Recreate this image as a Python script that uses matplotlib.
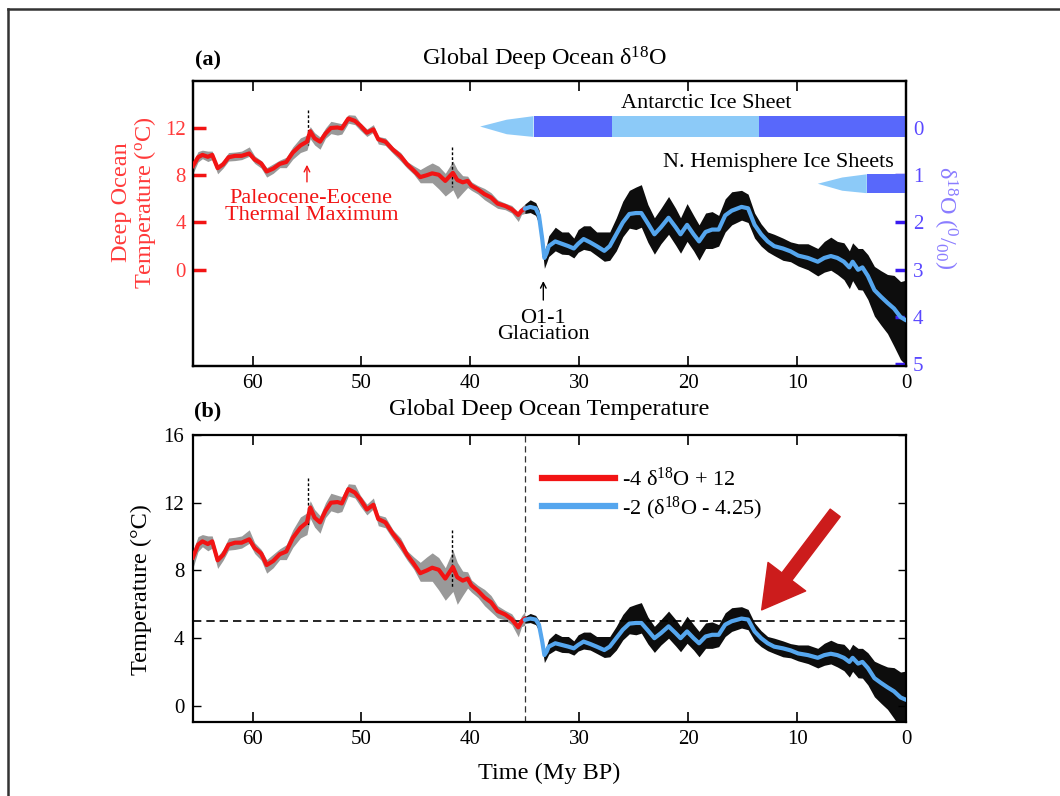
import numpy as np
import matplotlib
matplotlib.use("Agg")
import matplotlib.pyplot as plt
from matplotlib.lines import Line2D
from matplotlib.patches import Polygon, Rectangle

plt.rcParams['font.family'] = ['Liberation Serif', 'DejaVu Serif']
plt.rcParams['mathtext.fontset'] = 'custom'
plt.rcParams['mathtext.rm'] = 'Liberation Serif'
plt.rcParams['mathtext.it'] = 'Liberation Serif:italic'
plt.rcParams['mathtext.bf'] = 'Liberation Serif:bold'

# ---------------------------------------------------------------------------
# Benthic d18O record (smoothed curve) and spread of the raw measurements
# ---------------------------------------------------------------------------
age_my = [65.5, 65.0, 64.6, 64.1, 63.7, 63.2, 62.7, 62.2, 61.6, 61.0,
          60.3, 59.8, 59.2, 58.7, 58.1, 57.5, 56.9, 56.3, 55.6, 55.0,
          54.7, 54.3, 53.8, 53.3, 52.8, 52.2, 51.8, 51.2, 50.6, 50.1,
          49.5, 48.9, 48.45, 47.8, 47.1, 46.4, 45.8, 45.2, 44.6, 44.0,
          43.5, 42.9, 42.3, 41.6, 41.2, 40.7, 40.25, 39.9, 39.3, 38.7,
          38.1, 37.5, 36.8, 36.2, 35.6, 35.3, 35.0,
          34.5, 34.0, 33.7, 33.4, 33.2, 33.0, 32.8, 32.2, 31.6, 31.0,
          30.5, 30.1, 29.6, 29.0, 28.4, 27.7, 27.2, 26.6, 26.0, 25.4,
          24.8, 24.3, 23.7, 23.1, 22.5, 21.8, 21.15, 20.7, 20.1, 19.5,
          19.0, 18.4, 17.8, 17.2, 16.6, 16.0, 15.1, 14.5, 13.9, 13.3,
          12.7, 12.1, 11.3, 10.6, 9.9, 9.0, 8.1, 7.5, 6.9, 6.3,
          5.7, 5.2, 4.9, 4.4, 4.0, 3.5, 2.9, 2.3, 1.7, 1.1,
          0.5, 0.0]

d18o = [0.82, 0.62, 0.57, 0.61, 0.57, 0.85, 0.77, 0.62, 0.59, 0.59,
        0.54, 0.67, 0.75, 0.92, 0.86, 0.76, 0.72, 0.52, 0.37, 0.29,
        0.07, 0.22, 0.29, 0.12, 0.00, -0.01, 0.01, -0.20, -0.15, -0.05,
        0.10, 0.03, 0.24, 0.29, 0.46, 0.60, 0.77, 0.90, 1.04, 1.00,
        0.96, 0.99, 1.12, 0.95, 1.10, 1.15, 1.12, 1.22, 1.30, 1.40,
        1.47, 1.60, 1.65, 1.72, 1.84, 1.75, 1.71,
        1.67, 1.70, 1.85, 2.35, 2.75, 2.65, 2.50, 2.40, 2.45, 2.50,
        2.55, 2.45, 2.35, 2.42, 2.50, 2.60, 2.50, 2.25, 2.00, 1.82,
        1.80, 1.80, 2.02, 2.25, 2.10, 1.90, 2.10, 2.25, 2.05, 2.25,
        2.40, 2.20, 2.15, 2.15, 1.85, 1.75, 1.67, 1.70, 2.05, 2.25,
        2.40, 2.50, 2.55, 2.61, 2.70, 2.75, 2.83, 2.75, 2.71, 2.75,
        2.83, 2.95, 2.83, 3.00, 2.95, 3.13, 3.43, 3.57, 3.70, 3.82,
        4.00, 4.07]

# scatter of individual measurements around the smoothed curve (per mil)
spread_warm = [0.10, 0.12, 0.10, 0.12, 0.08, 0.06, 0.08, 0.10, 0.08, 0.10,
               0.14, 0.08, 0.06, 0.08, 0.10, 0.08, 0.10, 0.12, 0.16, 0.14,
               0.10, 0.12, 0.10, 0.12, 0.14, 0.10, 0.10, 0.08, 0.12, 0.06,
               0.08, 0.10, 0.06, 0.08, 0.06, 0.08, 0.06, 0.10, 0.16, 0.20,
               0.22, 0.18, 0.16, 0.25, 0.22, 0.14, 0.10, 0.08, 0.08, 0.12,
               0.10, 0.08, 0.06, 0.08, 0.06, 0.08, 0.10,
               0.15, 0.12, 0.12, 0.15, 0.15, 0.18, 0.22, 0.30, 0.25, 0.30,
               0.22, 0.30, 0.28, 0.35, 0.30, 0.40, 0.30, 0.35, 0.45, 0.50,
               0.55, 0.60, 0.40, 0.35, 0.40, 0.45, 0.40, 0.35, 0.45, 0.40,
               0.35, 0.40, 0.38, 0.30, 0.35, 0.40, 0.35, 0.30, 0.25, 0.22,
               0.20, 0.25, 0.22, 0.20, 0.25, 0.30, 0.28, 0.35, 0.40, 0.35,
               0.40, 0.35, 0.40, 0.45, 0.40, 0.45, 0.50, 0.55, 0.60, 0.70,
               0.75, 0.85]

spread_cold = [0.16, 0.10, 0.08, 0.10, 0.10, 0.12, 0.08, 0.08, 0.10, 0.08,
               0.06, 0.08, 0.10, 0.12, 0.10, 0.08, 0.12, 0.14, 0.15, 0.18,
               0.16, 0.14, 0.16, 0.10, 0.12, 0.16, 0.12, 0.10, 0.08, 0.10,
               0.08, 0.06, 0.10, 0.08, 0.08, 0.10, 0.08, 0.08, 0.12, 0.16,
               0.20, 0.30, 0.32, 0.36, 0.40, 0.22, 0.14, 0.10, 0.10, 0.12,
               0.14, 0.10, 0.08, 0.08, 0.14, 0.08, 0.10,
               0.12, 0.15, 0.18, 0.20, 0.22, 0.20, 0.22, 0.20, 0.22, 0.18,
               0.20, 0.18, 0.22, 0.18, 0.20, 0.22, 0.30, 0.35, 0.30, 0.30,
               0.35, 0.30, 0.40, 0.42, 0.35, 0.35, 0.38, 0.40, 0.35, 0.35,
               0.40, 0.35, 0.40, 0.35, 0.35, 0.30, 0.28, 0.30, 0.28, 0.25,
               0.22, 0.20, 0.25, 0.22, 0.22, 0.25, 0.30, 0.30, 0.30, 0.35,
               0.38, 0.45, 0.40, 0.42, 0.48, 0.50, 0.55, 0.60, 0.65, 0.80,
               0.90, 0.95]

# isolated excursions (PETM and middle-Eocene spike)
spike_age = [54.9, 41.7]
spike_top = [-0.37, 0.41]
spike_bottom = [0.35, 1.25]

# age at which the temperature conversion switches
split_age = 35.0

# ice-sheet history (My BP): onset taper, then alternating full / partial cover
antarctic_onset = 39.1
antarctic_edges = [34.2, 27.0, 13.5, 0.0]
antarctic_full = [True, False, True]
nh_onset = 8.1
nh_edges = [3.6, 0.0]
nh_full = [True]

temp_ticks = [0, 4, 8, 12]
d18o_ticks = [0, 1, 2, 3, 4, 5]
time_ticks = [60, 50, 40, 30, 20, 10, 0]
temp_b_ticks = [0, 4, 8, 12, 16]

# ---------------------------------------------------------------------------
RED = '#f21414'
BLUE = '#55a6ee'
ICE_DARK = '#5868fb'
ICE_LIGHT = '#8ccaf8'
D_TICK = '#3a1cf0'
D_LABEL = '#5a48ff'
T_LABEL = '#ff3a3a'

TICK_FS = 15
TEXT_FS = 16
TITLE_FS = 17.5

age = np.array(age_my)
d = np.array(d18o)
warm = np.array(spread_warm)
cold = np.array(spread_cold)
old = age >= split_age
young = age <= split_age


def temp_old(x):
    return -4.0 * np.asarray(x) + 12.0


def temp_young(x):
    return -2.0 * (np.asarray(x) - 4.25)


W, H = 1060, 796
fig = plt.figure(figsize=(W / 100, H / 100), dpi=100)


def fx(x):
    return x / W


def fy(y):
    return 1 - y / H


LEFT, RIGHT = 192.6, 906.0
ax_a = fig.add_axes([fx(LEFT), fy(365.7), fx(RIGHT) - fx(LEFT), fy(80.7) - fy(365.7)])
ax_d = ax_a.twinx()
ax_b = fig.add_axes([fx(LEFT), fy(722.0), fx(RIGHT) - fx(LEFT), fy(435.0) - fy(722.0)])

# frame around the figure
fig.add_artist(Line2D([fx(7.5), fx(7.5)], [0, fy(8.5)], color='#333333', lw=1.8))
fig.add_artist(Line2D([fx(7.5), 1], [fy(8.5), fy(8.5)], color='#333333', lw=1.8))

# ---------------------------- panel (a) -----------------------------------
d_lim = (5.03, -1.0)
ax_d.set_ylim(*d_lim)
ax_a.set_ylim(temp_old(d_lim[0]), temp_old(d_lim[1]))
for ax in (ax_a, ax_b):
    ax.set_xlim(65.5, 0)

ax_d.fill_between(age[old], d[old] - warm[old], d[old] + cold[old],
                  color='k', alpha=0.4, lw=0, zorder=1)
ax_d.fill_between(age[young], d[young] - warm[young], d[young] + cold[young],
                  color='k', alpha=0.95, lw=0, zorder=1)
ax_d.vlines(spike_age, spike_top, spike_bottom, color='k', lw=1.0,
            linestyles=(0, (2, 1.5)), zorder=1)
ax_d.plot(age[old], d[old], color=RED, lw=3.0, zorder=3, solid_capstyle='round')
ax_d.plot(age[young], d[young], color=BLUE, lw=3.0, zorder=3, solid_capstyle='round')


# ice sheet bars
def ice_bar(onset, edges, full, y0, y1):
    yc = 0.5 * (y0 + y1)
    h = y1 - y0
    taper = [(onset, yc), (0.5 * (onset + edges[0]), y0 + 0.17 * h),
             (edges[0], y0), (edges[0], y1),
             (0.5 * (onset + edges[0]), y1 - 0.13 * h)]
    ax_d.add_patch(Polygon(taper, closed=True, color=ICE_LIGHT, lw=0, zorder=2))
    for a0, a1, f in zip(edges[:-1], edges[1:], full):
        ax_d.add_patch(Rectangle((a1, y0), a0 - a1, h,
                                 color=ICE_DARK if f else ICE_LIGHT, lw=0, zorder=2))


ice_bar(antarctic_onset, antarctic_edges, antarctic_full, -0.25, 0.19)
ice_bar(nh_onset, nh_edges, nh_full, 0.98, 1.38)
ax_d.text(18.3, -0.52, 'Antarctic Ice Sheet', ha='center', va='center', fontsize=TEXT_FS)
ax_d.text(1.1, 0.73, 'N. Hemisphere Ice Sheets', ha='right', va='center',
          fontsize=TEXT_FS)

# annotations
ax_d.annotate('', xy=(55.0, 0.72), xytext=(55.0, 1.2),
              arrowprops=dict(arrowstyle='->', color=RED, lw=1.0))
ax_d.text(54.6, 1.68, 'Paleocene-Eocene\nThermal Maximum', color=RED,
          ha='center', va='center', fontsize=TEXT_FS, linespacing=0.85)
ax_d.annotate('', xy=(33.3, 3.18), xytext=(33.3, 3.7),
              arrowprops=dict(arrowstyle='->', color='k', lw=1.0))
ax_d.text(33.3, 4.2, 'O1-1\nGlaciation', color='k',
          ha='center', va='center', fontsize=TEXT_FS, linespacing=0.85)

# axes styling panel (a)
ax_a.set_yticks(temp_ticks)
ax_a.tick_params(axis='y', direction='in', length=9, width=2.5, colors=RED,
                 labelcolor=T_LABEL, labelsize=TICK_FS, pad=5)
ax_a.yaxis.get_major_ticks()[0].tick1line.set_linewidth(1.2)
ax_d.set_yticks(d18o_ticks)
ax_d.tick_params(axis='y', direction='in', length=8, width=2.5, colors=D_TICK,
                 labelcolor=D_LABEL, labelsize=TICK_FS, pad=5)
for ax in (ax_a, ax_b):
    ax.set_xticks(time_ticks)
    ax.tick_params(axis='x', direction='in', top=True, length=7, width=1.2,
                   labelsize=TICK_FS, pad=6)
for ax in (ax_a, ax_d, ax_b):
    for s in ax.spines.values():
        s.set_linewidth(1.6)

fig.text(fx(208), fy(60), '(a)', fontsize=16, fontweight='bold', ha='center', va='center')
fig.text(fx(544), fy(59), 'Global Deep Ocean δ$^{18}$O', fontsize=TITLE_FS,
         ha='center', va='center')
fig.text(fx(122), fy(202), 'Deep Ocean', color=T_LABEL, fontsize=TITLE_FS,
         rotation=90, ha='center', va='center')
fig.text(fx(145), fy(203), r'Temperature ($^{\rm o}$C)', color=T_LABEL,
         fontsize=TITLE_FS, rotation=90, ha='center', va='center')
fig.text(fx(945), fy(218), 'δ$^{18}$O ($^{0}$/$_{00}$)', color='#8a7cff',
         fontsize=TITLE_FS, rotation=270, ha='center', va='center')

# ---------------------------- panel (b) -----------------------------------
ax_b.set_ylim(-0.95, 16)
ax_b.fill_between(age[old], temp_old(d[old] - warm[old]), temp_old(d[old] + cold[old]),
                  color='k', alpha=0.4, lw=0, zorder=1)
ax_b.fill_between(age[young], temp_young(d[young] - warm[young]),
                  temp_young(d[young] + cold[young]), color='k', alpha=0.95, lw=0, zorder=1)
ax_b.vlines(spike_age, temp_old(spike_top), temp_old(spike_bottom), color='k', lw=1.0,
            linestyles=(0, (2, 1.5)), zorder=1)
ax_b.plot(age[old], temp_old(d[old]), color=RED, lw=3.0, zorder=3, solid_capstyle='round')
ax_b.plot(age[young], temp_young(d[young]), color=BLUE, lw=3.0, zorder=3,
          solid_capstyle='round')

threshold_temp = temp_old(1.75)
ax_b.axhline(threshold_temp, color='k', lw=1.2, ls=(0, (5, 3)), zorder=2)
ax_b.axvline(split_age, color='#333333', lw=0.9, ls=(0, (5, 3)), zorder=2)

handles = [Line2D([], [], color=RED, lw=4.5), Line2D([], [], color=BLUE, lw=4.5)]
labels = ['-4 δ$^{18}$O + 12', '-2 (δ$^{18}$O - 4.25)']
ax_b.legend(handles, labels, loc='upper left', bbox_to_anchor=(0.49, 0.885),
            frameon=False, fontsize=TEXT_FS, handlelength=3.3, handletextpad=0.3,
            labelspacing=0.15, borderaxespad=0, borderpad=0)

ax_b.annotate('', xy=(13.25, 5.67), xytext=(6.5, 11.4),
              arrowprops=dict(width=9, headwidth=34, headlength=30, color='#cc1c1c',
                              shrink=0))

ax_b.set_yticks(temp_b_ticks)
ax_b.tick_params(axis='y', direction='in', right=True, length=6, width=1.0,
                 labelsize=TICK_FS, pad=6)

fig.text(fx(208), fy(411), '(b)', fontsize=16, fontweight='bold', ha='center', va='center')
fig.text(fx(549), fy(410), 'Global Deep Ocean Temperature', fontsize=TITLE_FS,
         ha='center', va='center')
fig.text(fx(141), fy(590), 'Temperature (°C)', fontsize=TITLE_FS, rotation=90,
         ha='center', va='center')
fig.text(fx(549), fy(773), 'Time (My BP)', fontsize=TITLE_FS, ha='center', va='center')

fig.savefig('out.png', dpi=100)
